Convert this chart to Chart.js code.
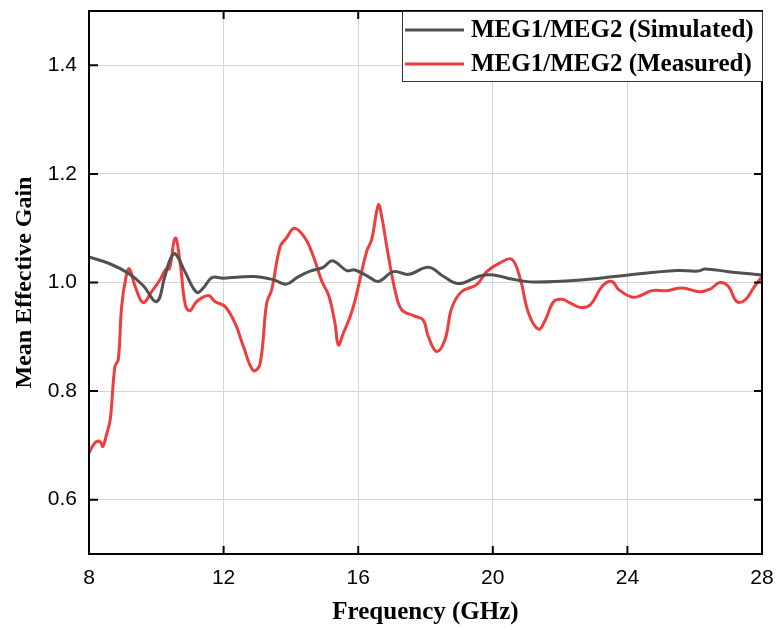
<!DOCTYPE html>
<html>
<head>
<meta charset="utf-8">
<script src="https://cdn.jsdelivr.net/npm/chart.js@4/dist/chart.umd.min.js"></script>
<style>
  html, body { margin: 0; padding: 0; background: #fff; }
  canvas { display: block; }
</style>
</head>
<body>
<canvas id="megChart" width="776" height="630"></canvas>
<script>
// frequency axis (GHz) and its tick values
var freqTicks = [8, 12, 16, 20, 24, 28];
var gainTicks = [0.6, 0.8, 1.0, 1.2, 1.4];

// MEG1/MEG2 simulated
var simFreq = [8.00, 8.60, 9.17, 9.60, 10.01, 10.25, 10.41, 10.56, 10.85, 11.20, 11.40, 11.65, 11.99, 12.88, 13.48, 13.87,
  14.20, 14.57, 14.96, 15.23, 15.66, 15.90, 16.30, 16.60, 17.05, 17.50, 18.09, 18.54, 18.98, 19.62, 20.02, 20.51,
  21.20, 22.69, 24.03, 25.47, 26.10, 26.31, 27.00, 28.00];
var simMEG = [1.047, 1.035, 1.017, 0.995, 0.965, 1.010, 1.042, 1.053, 1.020, 0.982, 0.990, 1.009, 1.008, 1.011, 1.005, 0.997,
  1.010, 1.021, 1.028, 1.040, 1.022, 1.023, 1.011, 1.002, 1.020, 1.015, 1.028, 1.011, 0.998, 1.012, 1.014, 1.007,
  1.001, 1.005, 1.014, 1.022, 1.021, 1.025, 1.020, 1.014];

// MEG1/MEG2 measured
var measFreq = [8.00, 8.18, 8.33, 8.41, 8.52, 8.63, 8.77, 8.87, 8.97, 9.10, 9.20, 9.37, 9.61, 9.86, 10.11, 10.29, 10.39,
  10.56, 10.71, 10.86, 11.00, 11.20, 11.55, 11.74, 12.04, 12.34, 12.59, 12.88, 13.08, 13.28, 13.43, 13.68, 13.87,
  14.10, 14.42, 14.67, 14.92, 15.12, 15.31, 15.41, 15.56, 15.76, 15.91, 16.05, 16.25, 16.40, 16.60, 16.70, 16.85,
  17.09, 17.29, 17.64, 17.93, 18.08, 18.33, 18.58, 18.78, 19.07, 19.52, 19.82, 20.21, 20.56, 20.81, 21.06, 21.36,
  21.56, 21.81, 22.06, 22.31, 22.60, 22.90, 23.25, 23.54, 23.74, 24.14, 24.43, 24.73, 25.17, 25.62, 26.16, 26.46,
  26.75, 27.00, 27.25, 27.50, 27.75, 28.00];
var measMEG = [0.686, 0.705, 0.707, 0.698, 0.720, 0.747, 0.845, 0.858, 0.956, 1.010, 1.025, 0.993, 0.963, 0.983, 1.005, 1.025, 1.025,
  1.082, 1.036, 0.959, 0.948, 0.965, 0.976, 0.965, 0.956, 0.925, 0.882, 0.838, 0.849, 0.962, 0.987, 1.066, 1.082,
  1.100, 1.082, 1.048, 1.002, 0.977, 0.925, 0.885, 0.907, 0.937, 0.968, 1.005, 1.057, 1.079, 1.143, 1.121, 1.066,
  0.987, 0.950, 0.939, 0.931, 0.901, 0.873, 0.895, 0.953, 0.983, 0.996, 1.020, 1.036, 1.043, 1.008, 0.944, 0.914,
  0.931, 0.965, 0.969, 0.962, 0.954, 0.959, 0.993, 1.002, 0.987, 0.973, 0.977, 0.985, 0.985, 0.990, 0.983, 0.988,
  1.000, 0.993, 0.965, 0.968, 0.990, 1.011];

var seriesLabels = ['MEG1/MEG2 (Simulated)', 'MEG1/MEG2 (Measured)'];
var seriesColors = ['#505050', '#f03c3c'];

function toPoints(xs, ys) {
  return xs.map(function(x, i) { return { x: x, y: ys[i] }; });
}

// keep tick labels from pushing the plot area inwards
function noLabelPadding(s) {
  s.paddingTop = 0; s.paddingBottom = 0; s.paddingLeft = 0; s.paddingRight = 0;
}

var serifBold = { family: '"Liberation Serif", "Times New Roman", serif', weight: 'bold' };

// black box round the plot, inward ticks on all four sides, legend box top right
var framePlugin = {
  id: 'frameAndLegend',
  afterDraw: function(chart) {
    var ctx = chart.ctx, a = chart.chartArea;
    var xs = chart.scales.x, ys = chart.scales.y;
    ctx.save();
    ctx.strokeStyle = '#000';
    ctx.lineWidth = 2;
    ctx.beginPath();
    freqTicks.forEach(function(v) {
      var px = xs.getPixelForValue(v);
      ctx.moveTo(px, a.bottom); ctx.lineTo(px, a.bottom - 8);
      ctx.moveTo(px, a.top); ctx.lineTo(px, a.top + 8);
    });
    gainTicks.forEach(function(v) {
      var py = ys.getPixelForValue(v);
      ctx.moveTo(a.left, py); ctx.lineTo(a.left + 9, py);
      ctx.moveTo(a.right, py); ctx.lineTo(a.right - 8, py);
    });
    ctx.stroke();
    ctx.strokeRect(a.left, a.top, a.right - a.left, a.bottom - a.top);

    // legend
    var bw = 360, bh = 70, bx = a.right - bw, by = a.top;
    ctx.fillStyle = '#fff';
    ctx.fillRect(bx, by, bw, bh);
    ctx.lineWidth = 1;
    ctx.strokeStyle = '#333';
    ctx.strokeRect(bx + 0.5, by + 0.5, bw, bh);
    ctx.font = 'bold 25px "Liberation Serif", "Times New Roman", serif';
    ctx.textBaseline = 'middle';
    chart.data.datasets.forEach(function(ds, i) {
      var ly = by + 19 + i * 34;
      ctx.strokeStyle = ds.borderColor;
      ctx.lineWidth = 3;
      ctx.beginPath();
      ctx.moveTo(bx + 3, ly); ctx.lineTo(bx + 62, ly);
      ctx.stroke();
      ctx.fillStyle = '#000';
      ctx.fillText(ds.label, bx + 69, ly + 1);
    });
    ctx.restore();
  }
};

new Chart(document.getElementById('megChart'), {
  type: 'line',
  data: {
    datasets: [
      { label: seriesLabels[0], data: toPoints(simFreq, simMEG), borderColor: seriesColors[0], borderWidth: 3, pointRadius: 0, tension: 0.4 },
      { label: seriesLabels[1], data: toPoints(measFreq, measMEG), borderColor: seriesColors[1], borderWidth: 3, pointRadius: 0, tension: 0.4 }
    ]
  },
  options: {
    responsive: false,
    animation: false,
    devicePixelRatio: 1,
    layout: { padding: { top: 11, right: 14, left: 0, bottom: 0 } },
    plugins: { legend: { display: false }, tooltip: { enabled: false } },
    scales: {
      x: {
        type: 'linear', min: 8, max: 28,
        afterBuildTicks: function(s) { s.ticks = freqTicks.map(function(v) { return { value: v }; }); },
        afterFit: function(s) { s.height = 76; noLabelPadding(s); },
        grid: { color: '#d4d4d4', lineWidth: 1, drawTicks: false },
        border: { display: false },
        ticks: { padding: 12, color: '#000', font: { family: '"Liberation Sans", Arial, sans-serif', size: 21 }, maxRotation: 0 },
        title: { display: true, text: 'Frequency (GHz)', color: '#000', font: Object.assign({ size: 25 }, serifBold), padding: { top: 0, bottom: 2 } }
      },
      y: {
        min: 0.5, max: 1.5,
        afterBuildTicks: function(s) { s.ticks = gainTicks.map(function(v) { return { value: v }; }); },
        afterFit: function(s) { s.width = 89; noLabelPadding(s); },
        grid: { color: '#d4d4d4', lineWidth: 1, drawTicks: false },
        border: { display: false },
        ticks: { padding: 12, color: '#000', font: { family: '"Liberation Sans", Arial, sans-serif', size: 21 },
          callback: function(v) { return v.toFixed(1); } },
        title: { display: true, text: 'Mean Effective Gain', color: '#000', font: Object.assign({ size: 24 }, serifBold), padding: { top: 10, bottom: 0 } }
      }
    }
  },
  plugins: [framePlugin]
});
</script>
</body>
</html>
